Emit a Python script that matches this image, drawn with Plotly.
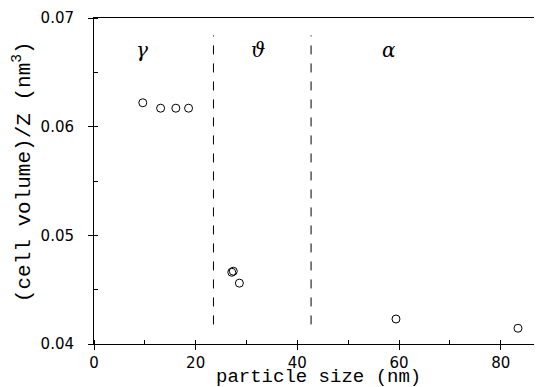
import plotly.graph_objects as go

# data
size_nm = [9.6, 13.1, 16.1, 18.6, 27.1, 27.4, 28.6, 59.4, 83.4]
vol_per_z = [0.0622, 0.0617, 0.0617, 0.0617, 0.0466, 0.0467, 0.0456, 0.0423, 0.04145]

phase_bounds = [23.5, 42.7]
phase_line_y = [0.0418, 0.0684]

phase_labels = ["γ", "ϑ", "α"]
phase_label_x = [9.5, 32.2, 58.0]
phase_label_y = 0.0671

x_ticks = [0, 20, 40, 60, 80]
y_ticks = [0.04, 0.05, 0.06, 0.07]

fig = go.Figure()
fig.add_trace(go.Scatter(
    x=size_nm, y=vol_per_z, mode="markers",
    marker=dict(symbol="circle-open", size=8, color="black", line=dict(width=1, color="black")),
    showlegend=False, hoverinfo="skip"))

for xb in phase_bounds:
    fig.add_trace(go.Scatter(
        x=[xb, xb], y=phase_line_y, mode="lines",
        line=dict(color="black", width=1, dash="dash"),
        showlegend=False, hoverinfo="skip"))

for lab, lx in zip(phase_labels, phase_label_x):
    fig.add_annotation(x=lx, y=phase_label_y, text="<i>" + lab + "</i>", showarrow=False,
                       font=dict(family="DejaVu Serif", size=20, color="black"))

# page body has an 8px margin: compensate so the plot area lands where the reference has it
fig.add_annotation(xref="paper", yref="paper", x=-0.158, xanchor="center", y=0.53,
                   text="(cell volume)/Z (nm<sup>3</sup>)", textangle=-90,
                   showarrow=False,
                   font=dict(family="Liberation Mono", size=21, color="black"))

fig.add_annotation(xref="paper", yref="paper", x=0.493, y=-0.101, yanchor="middle",
                   text="particle size (nm)", showarrow=False,
                   font=dict(family="Liberation Mono", size=19, color="black"))

fig.update_xaxes(
    range=[0, 89.7], tickvals=x_ticks, ticks="outside", ticklen=5,
    tickcolor="black", showline=True, linecolor="black", linewidth=1,
    mirror=True, showgrid=False, zeroline=False,
    tickfont=dict(family="DejaVu Sans", size=15, color="black"),
    minor=dict(dtick=10, ticks="inside", ticklen=4, tickcolor="black", showgrid=False))
fig.update_yaxes(
    range=[0.04, 0.07], tickvals=y_ticks, tickformat=".2f", ticks="outside", ticklen=5,
    tickcolor="black", showline=True, linecolor="black", linewidth=1,
    showgrid=False, zeroline=False, ticklabelstandoff=11,
    tickfont=dict(family="DejaVu Sans", size=15, color="black"),
    minor=dict(dtick=0.005, ticks="inside", ticklen=4, tickcolor="black", showgrid=False))

fig.update_layout(
    width=542, height=387,
    margin=dict(l=86, r=0, t=10, b=51),
    plot_bgcolor="white", paper_bgcolor="white")

fig.write_html("out.html")
